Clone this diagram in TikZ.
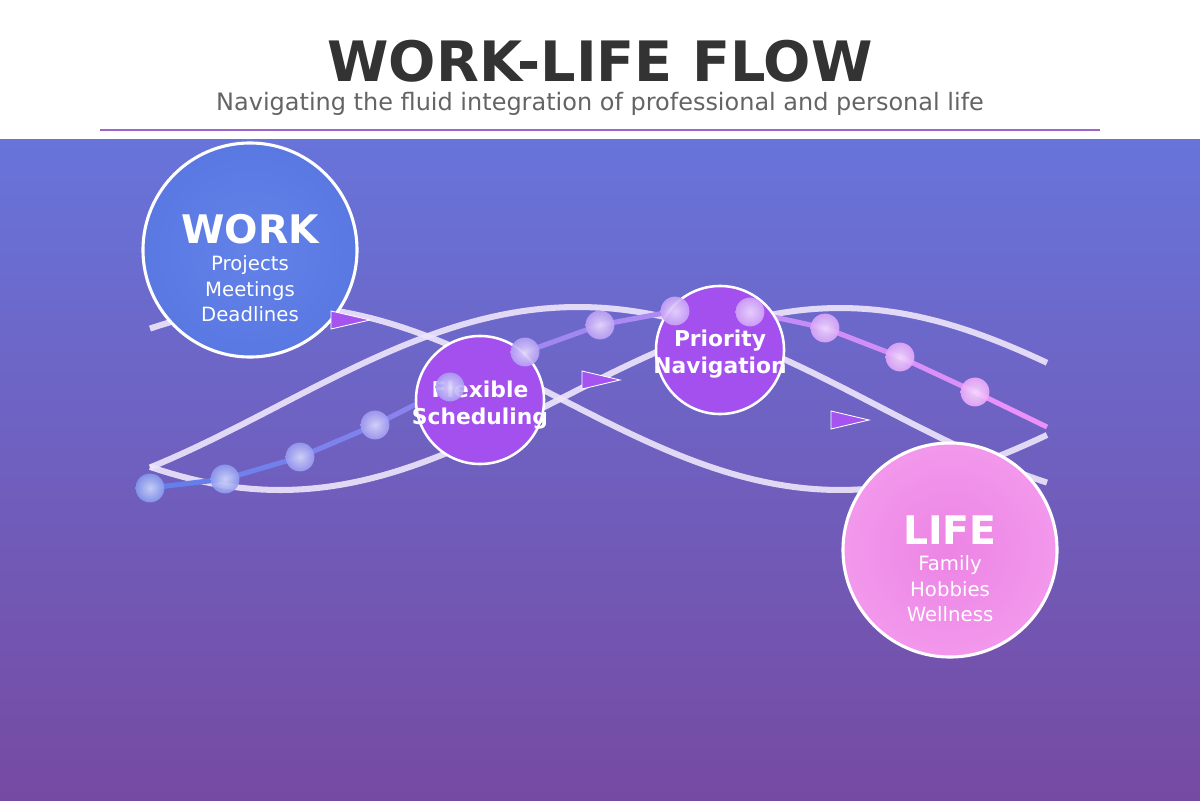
\documentclass[tikz,border=0pt]{standalone}
\usepackage{fontspec}
\setmainfont{DejaVu Sans}
\usepackage{tikz}
\usetikzlibrary{positioning}

\definecolor{bgtop}{RGB}{104,116,218}
\definecolor{bgbot}{RGB}{118,74,162}
\definecolor{titlecol}{RGB}{51,51,51}
\definecolor{subcol}{RGB}{100,100,100}
\definecolor{rulecol}{RGB}{160,100,205}
\definecolor{wavecol}{RGB}{238,230,251}
\definecolor{workin}{RGB}{98,130,232}
\definecolor{workout}{RGB}{90,120,226}
\definecolor{stagecol}{RGB}{164,80,238}
\definecolor{lifein}{RGB}{236,132,228}
\definecolor{lifeout}{RGB}{242,152,236}
\definecolor{chainblue}{RGB}{102,126,234}
\definecolor{chainpink}{RGB}{240,147,251}
\definecolor{tricol}{RGB}{166,84,240}

\tikzset{wave/.style={draw=wavecol,line width=4.3pt,opacity=0.9,samples=90},
         hub/.style={circle,draw=white,line width=2.2pt,minimum size=5.35cm,inner sep=0pt},
         stage/.style={circle,draw=white,line width=1.8pt,fill=stagecol,minimum size=3.2cm,inner sep=0pt},
         bead/.style={circle,minimum size=0.72cm,inner sep=0pt,opacity=0.9},
         chain/.style={line width=3.6pt},
         flowtri/.style={fill=tricol,draw=white,line width=0.6pt},
         hubtitle/.style={text=white,font=\bfseries\fontsize{28}{30}\selectfont},
         hubitems/.style={text=white,align=center,font=\fontsize{14}{18.1}\selectfont},
         stagetext/.style={text=white,align=center,font=\bfseries\fontsize{15.5}{19}\selectfont}}

\begin{document}
\begin{tikzpicture}[x=0.025cm,y=-0.025cm]
    \useasboundingbox (0,0) rectangle (1200,800);
    \fill[white] (0,0) rectangle (1200,800);
    \shade[top color=bgtop,bottom color=bgbot] (0,140) rectangle (1200,800);

    \node[text=titlecol,font=\bfseries\fontsize{39.6}{44}\selectfont] (title) at (600,61) {WORK-LIFE FLOW};
    \node[text=subcol,font=\fontsize{17.05}{20}\selectfont] (subtitle) at (600,104)
    {Navigating the fluid integration of professional and personal life};
    \coordinate (ruleL) at (100,130); \coordinate (ruleR) at (1100,130);
    \draw[rulecol,line width=1.4pt] (ruleL) -- (ruleR);

    \draw[wave] plot[domain=150:1047] (\x,{398-92*cos((\x-278)/562*180)});
    \draw[wave] plot[domain=150:1047] (\x,{406-99*cos((\x-578)/600*180)});
    \draw[wave] plot[domain=150:1047] (\x,{399+91*cos((\x-280)/560*180)});

    \foreach \i/\x/\y in {1/150/488,2/225/479,3/300/457,4/375/425,5/450/387,6/525/352,
    7/600/325,8/675/311,9/750/312,10/825/328,11/900/357,12/975/392,13/1047/427}
      \coordinate (p\i) at (\x,\y);
    \foreach \i/\j in {1/2,2/3,3/4,4/5,5/6,6/7,7/8,8/9,9/10,10/11,11/12,12/13}{
      \pgfmathtruncatemacro\mix{100-8.5*(\i-1)}
      \draw[chain,draw=chainblue!\mix!chainpink] (p\i) -- (p\j);
    }

    \node[hub,inner color=workin,outer color=workout] (work) at (250,250) {};
    \node[hub,inner color=lifein,outer color=lifeout] (life) at (950,550) {};
    \node[stage] (flex) at (480,400) {}; \node[stage] (prio) at (720,350) {};

    \node[hubtitle] (worklbl) at (250,229) {WORK};
    \node[hubitems] (workitems) at (250,289) {Projects\\Meetings\\Deadlines};
    \node[hubtitle] (lifelbl) at (950,530) {LIFE};
    \node[hubitems] (lifeitems) at (950,589) {Family\\Hobbies\\Wellness};
    \node[stagetext] (flexlbl) at (480,405) {Flexible\\Scheduling};
    \node[stagetext] (priolbl) at (720,354) {Priority\\Navigation};

    \foreach \i in {1,...,12}{
      \pgfmathtruncatemacro\mix{100-8.5*(\i-1)}
      \colorlet{beadc}{chainblue!\mix!chainpink}
      \node[bead,inner color=white!68!beadc,outer color=beadc!80!white] (b\i) at (p\i) {};
    }

    \draw[flowtri] (331,311) -- (370,320) -- (331,329) -- cycle;
    \draw[flowtri] (582,371) -- (620,380) -- (582,389) -- cycle;
    \draw[flowtri] (831,411) -- (869,420) -- (831,429) -- cycle;
\end{tikzpicture}
\end{document}
